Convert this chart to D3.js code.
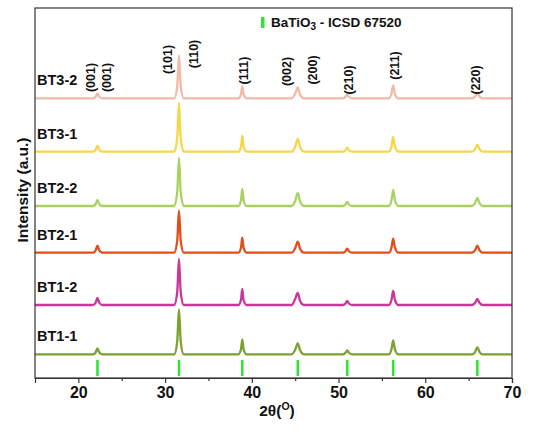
<!DOCTYPE html>
<html>
<head>
<meta charset="utf-8">
<script src="https://cdn.jsdelivr.net/npm/d3@7/dist/d3.min.js"></script>
<style>
  html, body { margin: 0; padding: 0; background: #fff; }
  svg { display: block; font-family: "Liberation Sans", Arial, sans-serif; }
</style>
</head>
<body>
<svg id="chart" width="549" height="433"></svg>
<script>
// ---- DATA ----
const twoTheta = [15, 21.7, 22.0, 22.2, 22.4, 22.75, 31.05, 31.4, 31.6, 31.8, 32.15,
  38.45, 38.75, 38.9, 39.05, 39.4, 44.6, 45.0, 45.3, 45.55, 46.0, 50.5, 50.8, 51.0, 51.2, 51.55,
  55.8, 56.1, 56.3, 56.5, 56.9, 65.4, 65.75, 66.0, 66.25, 66.6, 70];

const seriesNames = ["BT3-2", "BT3-1", "BT2-2", "BT2-1", "BT1-2", "BT1-1"];
const seriesOffsets = [279.7, 226.3, 172, 125.3, 73, 23.7];
const seriesColors = ["#f3b9a6", "#f7d64a", "#a8d35f", "#df4f1c", "#c9369c", "#7ba12f"];

const intBT3_2 = [0, 0, 1.5, 5, 1.5, 0, 0, 12, 43, 12, 0, 0, 4, 12, 4, 0, 0, 4.5, 11, 4, 0,
  0, 1.5, 4, 1.5, 0, 0, 4.5, 13, 4.5, 0, 0, 1.8, 5, 1.8, 0, 0];
const intBT3_1 = [0, 0, 2, 6, 2, 0, 0, 14, 49, 14, 0, 0, 5, 16, 5, 0, 0, 5, 13, 5, 0,
  0, 1.5, 4, 1.5, 0, 0, 5, 15, 5, 0, 0, 2.5, 7, 2.5, 0, 0];
const intBT2_2 = [0, 0, 2, 6, 2, 0, 0, 14, 48, 14, 0, 0, 5.5, 17, 5.5, 0, 0, 5, 13, 5, 0,
  0, 1.5, 4, 1.5, 0, 0, 5.5, 16, 5.5, 0, 0, 3, 8, 3, 0, 0];
const intBT2_1 = [0, 0, 2.5, 7, 2.5, 0, 0, 12, 42, 12, 0, 0, 5, 15, 5, 0, 0, 4.5, 11, 4.5, 0,
  0, 1.5, 4, 1.5, 0, 0, 5, 14, 5, 0, 0, 2.5, 7, 2.5, 0, 0];
const intBT1_2 = [0, 0, 2.5, 7, 2.5, 0, 0, 13, 46, 13, 0, 0, 5, 16, 5, 0, 0, 6, 12, 4.5, 0,
  0, 1.5, 4, 1.5, 0, 0, 5, 14, 5, 0, 0, 2.2, 6, 2.2, 0, 0];
const intBT1_1 = [0, 0, 2, 6, 2, 0, 0, 13, 45, 13, 0, 0, 5, 15, 5, 0, 0, 4.5, 11, 4.5, 0,
  0, 1.5, 4, 1.5, 0, 0, 5, 14, 5, 0, 0, 2.5, 7, 2.5, 0, 0];
const seriesIntensities = [intBT3_2, intBT3_1, intBT2_2, intBT2_1, intBT1_2, intBT1_1];

const refPositions = [22.2, 31.6, 38.9, 45.3, 51.0, 56.3, 66.0];
const refLow = 2, refHigh = 18;

const hklLabels = ["(001)", "(001)", "(101)", "(110)", "(111)", "(002)", "(200)", "(210)", "(211)", "(220)"];
const hklX = [21.4, 23.3, 30.3, 33.3, 39.1, 44.1, 47.0, 51.25, 56.55, 65.9];
const hklY = [300.5, 300.5, 318.5, 324, 307.5, 306.5, 308, 298, 312.5, 298];

const xTicks = [20, 30, 40, 50, 60, 70];
const xMinorTicks = [25, 35, 45, 55, 65];
const xDomain = [15, 70];
const yDomain = [0, 370];

// ---- CHART ----
const svg = d3.select("#chart");
const mLeft = 35, mRight = 512, mTop = 8, mBottom = 378;
const x = d3.scaleLinear().domain(xDomain).range([mLeft, mRight]);
const y = d3.scaleLinear().domain(yDomain).range([mBottom, mTop]);

const line = d3.line()
  .x(d => x(d[0]))
  .y(d => y(d[1]))
  .curve(d3.curveMonotoneX);

seriesNames.forEach((name, i) => {
  const pts = twoTheta.map((t, j) => [t, seriesOffsets[i] + seriesIntensities[i][j]]);
  svg.append("path")
    .attr("d", line(pts))
    .attr("fill", "none")
    .attr("stroke", seriesColors[i])
    .attr("stroke-width", 2.3)
    .attr("stroke-linejoin", "round");
  svg.append("text")
    .attr("x", 37)
    .attr("y", y(seriesOffsets[i] + 13))
    .attr("font-size", 14.5)
    .attr("font-weight", "bold")
    .attr("fill", "#111")
    .text(name);
});

// reference ticks
svg.selectAll(".ref").data(refPositions).enter().append("line")
  .attr("x1", d => x(d)).attr("x2", d => x(d))
  .attr("y1", y(refLow)).attr("y2", y(refHigh))
  .attr("stroke", "#2fe52f").attr("stroke-width", 2.5);

// hkl labels
hklLabels.forEach((lab, i) => {
  const px = x(hklX[i]), py = y(hklY[i]);
  svg.append("text")
    .attr("transform", `translate(${px},${py}) rotate(-90)`)
    .attr("text-anchor", "middle")
    .attr("dominant-baseline", "central")
    .attr("font-size", 12.5)
    .attr("font-weight", "bold")
    .attr("fill", "#111")
    .text(lab);
});

// legend
svg.append("rect").attr("x", 261).attr("y", 17).attr("width", 3.5).attr("height", 11).attr("fill", "#2fe52f");
const lt = svg.append("text").attr("x", 271).attr("y", 27).attr("font-size", 13.5)
  .attr("font-weight", "bold").attr("fill", "#111");
lt.append("tspan").text("BaTiO");
lt.append("tspan").attr("dy", 3).attr("font-size", 10).text("3");
lt.append("tspan").attr("dy", -3).text(" - ICSD 67520");

// frame
svg.append("rect").attr("x", mLeft).attr("y", mTop).attr("width", mRight - mLeft).attr("height", mBottom - mTop)
  .attr("fill", "none").attr("stroke", "#333").attr("stroke-width", 1.2);

// x axis
const ax = svg.append("g").attr("transform", `translate(0,${mBottom})`)
  .call(d3.axisBottom(x).tickValues(xTicks).tickSize(5).tickPadding(4).tickFormat(d3.format("d")));
ax.select(".domain").attr("stroke", "#333").attr("stroke-width", 1.2);
ax.selectAll(".tick line").attr("stroke", "#333").attr("stroke-width", 1.2);
ax.selectAll(".tick text").attr("font-size", 16).attr("font-weight", "bold")
  .attr("font-family", "Liberation Sans, Arial, sans-serif").attr("fill", "#111");
svg.append("g").attr("transform", `translate(0,${mBottom})`)
  .call(d3.axisBottom(x).tickValues(xMinorTicks).tickSize(3).tickFormat(""))
  .call(g => g.select(".domain").remove())
  .selectAll(".tick line").attr("stroke", "#333").attr("stroke-width", 1.2);

// x title
const xt = svg.append("text").attr("x", 277).attr("y", 416).attr("text-anchor", "middle")
  .attr("font-size", 15.5).attr("font-weight", "bold").attr("fill", "#111");
xt.append("tspan").text("2θ(");
xt.append("tspan").attr("dy", -6).attr("font-size", 10.5).text("O");
xt.append("tspan").attr("dy", 6).text(")");

// y title
svg.append("text")
  .attr("transform", `translate(22,${190}) rotate(-90)`)
  .attr("text-anchor", "middle")
  .attr("dominant-baseline", "central")
  .attr("font-size", 15.5).attr("font-weight", "bold").attr("fill", "#111")
  .text("Intensity (a.u.)");
</script>
</body>
</html>
